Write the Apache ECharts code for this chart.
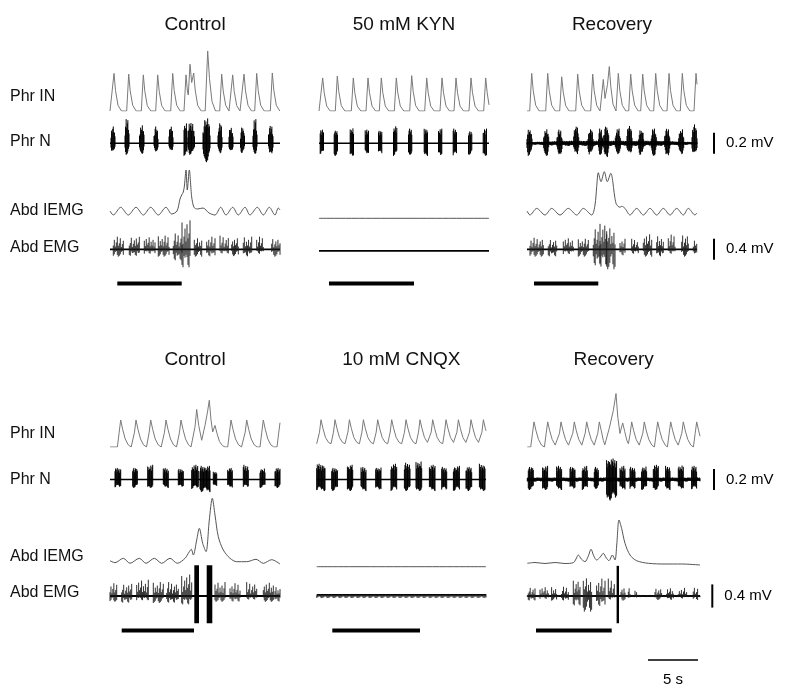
<!DOCTYPE html>
<html><head><meta charset="utf-8">
<script src="https://cdn.jsdelivr.net/npm/echarts/dist/echarts.min.js"></script>
<style>html,body{margin:0;padding:0;background:#fff}#c{width:792px;height:692px}</style>
</head><body><div id="c"></div>
<script>
// ---------------- DATA ----------------
var titlesTop = ['Control', '50 mM KYN', 'Recovery'];
var titlesBottom = ['Control', '10 mM CNQX', 'Recovery'];
var traceLabels = ['Phr IN', 'Phr N', 'Abd IEMG', 'Abd EMG'];
var durTop = [17, 17, 17];          // s shown per panel
var durBottom = [17, 16.93, 17.27]; // s shown per panel

// integrated phrenic (a.u., 1 = normal burst) [t (s), value]
var phrIN_A1 = [[0,0],[0.2,0],[0.4,0.99],[0.55,0.54],[0.8,0.15],[1.15,0],[1.67,0],[1.87,0.97],[2.02,0.53],[2.27,0.15],[2.62,0],[3.13,0],[3.33,0.95],[3.48,0.52],[3.73,0.14],[4.08,0],[4.57,0],[4.77,0.95],[4.92,0.52],[5.17,0.14],[5.52,0],[6.07,0],[6.27,0.99],[6.42,0.54],[6.67,0.15],[7.02,0],[7.4,0],[7.6,0.95],[7.75,0.5],[7.83,0.42],[8.0,1.23],[8.17,0.75],[8.37,1.0],[8.52,0.55],[8.77,0.15],[9.12,0],[9.52,0],[9.77,1.58],[9.95,0.85],[10.2,0.25],[10.55,0],[10.97,0],[11.17,0.97],[11.32,0.53],[11.57,0.15],[11.9,0],[12.07,0],[12.27,0.95],[12.42,0.52],[12.67,0.14],[13.0,0],[13.2,0],[13.4,0.97],[13.55,0.53],[13.8,0.15],[14.15,0],[14.47,0],[14.67,0.99],[14.82,0.54],[15.07,0.15],[15.42,0],[16.03,0],[16.23,1.0],[16.38,0.55],[16.63,0.15],[16.98,0]];
var phrIN_A2 = [[0,0],[0.17,0],[0.37,0.87],[0.52,0.48],[0.77,0.13],[1.12,0],[1.63,0],[1.83,0.92],[1.98,0.51],[2.23,0.14],[2.58,0],[3.23,0],[3.43,0.87],[3.58,0.48],[3.83,0.13],[4.18,0],[4.7,0],[4.9,0.87],[5.05,0.48],[5.3,0.13],[5.65,0],[6.03,0],[6.23,0.87],[6.38,0.48],[6.63,0.13],[6.98,0],[7.53,0],[7.73,0.87],[7.88,0.48],[8.13,0.13],[8.48,0],[9.07,0],[9.27,0.93],[9.42,0.51],[9.67,0.14],[10.02,0],[10.57,0],[10.77,0.87],[10.92,0.48],[11.17,0.13],[11.52,0],[12.1,0],[12.3,0.87],[12.45,0.48],[12.7,0.13],[13.05,0],[13.5,0],[13.7,0.87],[13.85,0.48],[14.1,0.13],[14.45,0],[15.0,0],[15.2,0.87],[15.35,0.48],[15.6,0.13],[15.95,0],[16.47,0],[16.67,0.87],[16.82,0.48],[17.0,0.16]];
var phrIN_A3 = [[0,0],[0.27,0],[0.47,0.99],[0.62,0.54],[0.87,0.15],[1.22,0],[1.87,0],[2.07,0.99],[2.22,0.54],[2.47,0.15],[2.82,0],[3.27,0],[3.47,0.9],[3.62,0.5],[3.87,0.14],[4.22,0],[4.87,0],[5.07,0.97],[5.22,0.53],[5.47,0.15],[5.82,0],[6.37,0],[6.57,0.97],[6.72,0.53],[6.97,0.15],[7.3,0],[7.43,0],[7.63,0.83],[7.8,0.33],[8.05,0.7],[8.23,1.17],[8.38,0.64],[8.6,0.18],[8.9,0],[8.93,0],[9.13,0.99],[9.28,0.54],[9.53,0.15],[9.88,0],[10.17,0],[10.37,0.97],[10.52,0.53],[10.77,0.15],[11.12,0],[11.37,0],[11.57,0.97],[11.72,0.53],[11.97,0.15],[12.32,0],[12.67,0],[12.87,0.99],[13.02,0.54],[13.27,0.15],[13.62,0],[14.0,0],[14.2,0.99],[14.35,0.54],[14.6,0.15],[14.95,0],[15.33,0],[15.53,0.99],[15.68,0.54],[15.93,0.15],[16.28,0],[16.7,0],[16.9,0.99],[17.0,0.7]];
var phrIN_B1 = [[0,0],[0.74,0],[0.92,0.55],[1.07,1.0],[1.27,0.65],[1.52,0.3],[1.82,0.08],[2.12,0],[2.27,0],[2.45,0.55],[2.6,1.0],[2.8,0.65],[3.05,0.3],[3.35,0.08],[3.65,0],[3.74,0],[3.92,0.55],[4.07,1.0],[4.27,0.65],[4.52,0.3],[4.82,0.08],[5.12,0],[5.27,0],[5.45,0.55],[5.6,1.0],[5.8,0.65],[6.05,0.3],[6.35,0.08],[6.65,0],[6.77,0],[6.95,0.55],[7.1,1.0],[7.3,0.65],[7.55,0.3],[7.85,0.08],[8.1,0],[8.3,0],[8.5,0.75],[8.67,1.39],[8.87,0.8],[9.17,0.25],[9.5,0.8],[9.75,1.3],[9.93,1.73],[10.1,1.0],[10.27,0.56],[10.5,0.8],[10.7,0.5],[10.95,0.2],[11.25,0.05],[11.5,0],[11.77,0],[11.95,0.55],[12.1,1.0],[12.3,0.65],[12.55,0.3],[12.85,0.08],[13.15,0],[13.34,0],[13.52,0.55],[13.67,1.0],[13.87,0.65],[14.12,0.3],[14.42,0.08],[14.72,0],[15.0,0],[15.18,0.55],[15.33,1.0],[15.53,0.65],[15.78,0.3],[16.08,0.08],[16.38,0],[16.7,0],[16.88,0.55],[17.0,0.9]];
var phrIN_B2 = [[0,0.12],[0.1,0.12],[0.28,0.55],[0.43,1.01],[0.63,0.68],[0.88,0.35],[1.18,0.17],[1.43,0.12],[1.5,0.12],[1.68,0.55],[1.83,1.01],[2.03,0.68],[2.28,0.35],[2.58,0.17],[2.83,0.12],[2.94,0.12],[3.12,0.55],[3.27,1.01],[3.47,0.68],[3.72,0.35],[4.02,0.17],[4.27,0.12],[4.34,0.12],[4.52,0.55],[4.67,1.01],[4.87,0.68],[5.12,0.35],[5.42,0.17],[5.67,0.12],[5.77,0.12],[5.95,0.55],[6.1,1.01],[6.3,0.68],[6.55,0.35],[6.85,0.17],[7.1,0.12],[7.17,0.12],[7.35,0.55],[7.5,1.01],[7.7,0.68],[7.95,0.35],[8.25,0.17],[8.5,0.12],[8.6,0.12],[8.78,0.55],[8.93,1.01],[9.13,0.68],[9.38,0.35],[9.68,0.17],[9.93,0.12],[10.0,0.12],[10.18,0.55],[10.33,1.01],[10.53,0.68],[10.78,0.35],[11.08,0.17],[11.27,0.12],[11.45,0.55],[11.6,1.01],[11.8,0.68],[12.05,0.35],[12.35,0.17],[12.6,0.12],[12.78,0.55],[12.93,1.01],[13.13,0.68],[13.38,0.35],[13.68,0.17],[13.84,0.12],[14.02,0.55],[14.17,1.01],[14.37,0.68],[14.62,0.35],[14.92,0.17],[15.1,0.12],[15.28,0.55],[15.43,1.01],[15.63,0.68],[15.88,0.35],[16.18,0.17],[16.34,0.12],[16.52,0.55],[16.67,1.01],[16.87,0.68],[16.93,0.6]];
var phrIN_B3 = [[0,0],[0.34,0],[0.52,0.51],[0.67,0.93],[0.87,0.6],[1.12,0.28],[1.42,0.07],[1.62,0],[1.71,0],[1.89,0.51],[2.04,0.93],[2.24,0.6],[2.49,0.28],[2.79,0.07],[2.99,0],[3.04,0],[3.22,0.51],[3.37,0.93],[3.57,0.6],[3.82,0.28],[4.12,0.07],[4.32,0],[4.37,0],[4.55,0.51],[4.7,0.93],[4.9,0.6],[5.15,0.28],[5.45,0.07],[5.61,0],[5.79,0.51],[5.94,0.93],[6.14,0.6],[6.39,0.28],[6.69,0.07],[6.87,0],[7.05,0.51],[7.2,0.93],[7.4,0.6],[7.6,0.25],[7.75,0.08],[8.2,0.7],[8.6,1.35],[8.87,1.98],[9.05,1.1],[9.27,0.5],[9.4,0.7],[9.54,0.89],[9.74,0.58],[9.95,0.25],[10.11,0.12],[10.29,0.5],[10.44,0.93],[10.64,0.6],[10.89,0.28],[11.19,0.07],[11.37,0],[11.55,0.51],[11.7,0.93],[11.9,0.6],[12.15,0.28],[12.45,0.07],[12.71,0],[12.89,0.51],[13.04,0.93],[13.24,0.6],[13.49,0.28],[13.79,0.07],[14.01,0],[14.19,0.51],[14.34,0.93],[14.54,0.6],[14.79,0.28],[15.09,0.07],[15.27,0],[15.45,0.51],[15.6,0.93],[15.8,0.6],[16.05,0.28],[16.35,0.07],[16.61,0],[16.79,0.51],[16.94,0.93],[17.14,0.6],[17.27,0.4]];

// integrated abdominal EMG (a.u.) [t (s), value]
var iemg_A1 = [[0,0.0],[0.33,-0.4],[1.07,0.37],[1.83,-0.4],[2.6,0.37],[3.33,-0.4],[4.07,0.37],[4.83,-0.4],[5.6,0.37],[6.17,-0.3],[6.7,0.0],[7.0,1.2],[7.17,1.6],[7.33,1.9],[7.45,2.6],[7.6,4.1],[7.73,2.1],[7.93,4.1],[8.17,1.4],[8.4,0.37],[8.73,0.2],[9.3,0.3],[9.9,-0.2],[10.5,-0.4],[11.07,0.37],[11.6,-0.4],[12.27,0.37],[12.83,-0.4],[13.5,0.37],[14.0,-0.4],[14.73,0.37],[15.33,-0.4],[15.93,0.37],[16.5,-0.4],[16.83,0.3],[17,0.1]];
var iemg_A2 = [[0,-0.73],[17,-0.73]];
var iemg_A3 = [[0,0],[0.3,-0.4],[0.97,0.26],[1.8,-0.4],[2.47,0.26],[3.3,-0.4],[4.13,0.26],[4.97,-0.4],[5.63,0.26],[6.47,-0.4],[6.8,0.6],[6.97,2.43],[7.13,3.83],[7.4,2.93],[7.73,3.93],[8.03,2.93],[8.37,3.77],[8.9,0.77],[9.3,0.37],[9.47,0.47],[9.8,0.26],[10.3,-0.4],[10.97,0.26],[11.63,-0.4],[12.3,0.26],[12.97,-0.4],[13.63,0.26],[14.3,-0.4],[14.97,0.26],[15.63,-0.4],[16.13,0.26],[16.8,-0.4],[16.97,-0.2]];
var iemg_B1 = [[0,0.13],[0.5,-0.07],[1.33,0.37],[2.0,-0.13],[2.93,0.37],[3.6,-0.13],[4.43,0.37],[5.17,-0.13],[6.0,0.37],[6.73,-0.13],[7.5,0.37],[7.93,1.03],[8.13,1.27],[8.33,0.7],[8.67,2.2],[8.93,3.37],[9.27,1.87],[9.6,1.03],[9.93,4.2],[10.23,6.37],[10.5,4.7],[10.83,2.53],[11.33,1.2],[12.0,0.37],[12.67,0.03],[13.67,0.03],[14.6,0.27],[15.33,-0.13],[16.17,0.23],[17,-0.2]];
var iemg_B2 = [[0,-0.47],[16.93,-0.47]];
var iemg_B3 = [[0,-0.13],[0.77,-0.05],[1.77,-0.15],[2.77,-0.05],[3.77,-0.15],[4.6,-0.07],[4.87,0.3],[5.1,0.7],[5.4,0.3],[5.77,0.03],[6.1,0.6],[6.37,1.27],[6.65,0.6],[6.93,0.2],[7.3,0.5],[7.6,0.87],[7.9,0.4],[8.17,0.13],[8.5,0.7],[8.77,0.2],[8.95,1.8],[9.17,4.2],[9.43,3.37],[9.77,1.87],[10.27,0.7],[10.93,0.13],[12.1,-0.13],[13.77,-0.2],[15.43,-0.2],[17.27,-0.3]];

// raw phrenic nerve bursts [t start, t end, max up (mV), max down (mV)]
var phrN_A1 = [[0.1,0.5,0.16,0.10],[1.5,1.9,0.25,0.11],[2.95,3.4,0.18,0.10],[4.4,4.8,0.16,0.09],[5.9,6.3,0.18,0.09],[7.4,7.7,0.2,0.12],[7.8,8.45,0.21,0.11],[9.3,10.0,0.25,0.18],[10.8,11.2,0.2,0.11],[11.9,12.3,0.16,0.1],[13.05,13.45,0.17,0.1],[14.3,14.7,0.23,0.1],[15.85,16.3,0.18,0.1]];
var phrN_A2 = [[0.12,0.45,0.13,0.11],[1.52,1.85,0.13,0.12],[3.12,3.45,0.15,0.12],[4.62,4.95,0.13,0.11],[5.95,6.28,0.13,0.11],[7.45,7.78,0.17,0.12],[8.95,9.28,0.14,0.11],[10.52,10.85,0.15,0.12],[11.95,12.28,0.14,0.13],[13.42,13.75,0.14,0.13],[14.95,15.28,0.13,0.11],[16.42,16.75,0.14,0.12]];
var phrN_A3 = [[0,17,0.025,0.025],[0.0,0.5,0.14,0.12],[1.67,2.17,0.14,0.12],[3.0,3.5,0.13,0.12],[4.67,5.17,0.18,0.12],[6.1,6.6,0.14,0.12],[7.15,7.55,0.14,0.11],[7.67,8.17,0.18,0.13],[8.83,9.33,0.14,0.12],[10.0,10.5,0.18,0.12],[11.17,11.67,0.14,0.12],[12.43,12.93,0.14,0.12],[13.77,14.27,0.15,0.12],[15.17,15.67,0.14,0.12],[16.5,17.0,0.18,0.12]];
var phrN_B1 = [[0.5,1.07,0.11,0.08],[2.27,2.73,0.12,0.08],[3.77,4.27,0.14,0.08],[5.33,5.83,0.11,0.08],[6.83,7.33,0.11,0.08],[8.17,8.83,0.14,0.09],[9.0,10.0,0.13,0.12],[10.33,10.67,0.08,0.06],[11.77,12.23,0.11,0.08],[13.33,13.83,0.14,0.08],[15.0,15.5,0.11,0.08],[16.5,17.0,0.11,0.08]];
var phrN_B2 = [[0,0.83,0.15,0.11],[1.5,2.07,0.12,0.11],[3.07,3.6,0.14,0.11],[4.43,4.93,0.12,0.11],[5.9,6.43,0.12,0.11],[7.43,8.0,0.15,0.11],[8.77,9.33,0.16,0.11],[9.93,10.5,0.18,0.11],[11.27,11.83,0.14,0.11],[12.5,13.0,0.12,0.11],[13.67,14.27,0.13,0.11],[14.93,15.5,0.12,0.11],[16.27,16.83,0.15,0.11]];
var phrN_B3 = [[0,17.27,0.02,0.02],[0.1,0.6,0.13,0.1],[1.53,2.03,0.13,0.1],[2.93,3.43,0.13,0.1],[4.27,4.77,0.13,0.1],[5.5,6.0,0.13,0.1],[6.7,7.1,0.12,0.09],[7.93,8.93,0.2,0.2],[9.27,9.77,0.13,0.1],[10.27,10.77,0.12,0.1],[11.43,11.93,0.13,0.1],[12.6,13.1,0.14,0.1],[13.83,14.27,0.13,0.1],[15.1,15.6,0.14,0.1],[16.43,16.93,0.13,0.1]];

// raw abdominal EMG bursts [t start, t end, max up (mV), max down (mV)]
var emg_A1 = [[0.33,1.33,0.24,0.14],[1.93,2.93,0.25,0.13],[3.43,4.5,0.24,0.14],[4.83,5.9,0.26,0.14],[6.33,7.2,0.3,0.22],[7.2,8.0,0.58,0.57],[8.43,9.17,0.22,0.14],[9.67,10.5,0.24,0.14],[11.0,11.83,0.26,0.13],[12.17,12.83,0.22,0.13],[13.33,14.17,0.24,0.14],[14.67,15.33,0.24,0.14],[16.17,17.0,0.22,0.14]];
var emg_A2 = [];
var emg_A3 = [[0.3,1.63,0.22,0.14],[2.13,2.97,0.2,0.14],[3.63,4.63,0.22,0.15],[5.13,6.13,0.2,0.14],[6.63,7.3,0.38,0.32],[7.3,7.97,0.55,0.55],[7.97,8.8,0.42,0.38],[9.3,9.8,0.2,0.12],[10.47,11.13,0.2,0.14],[11.63,12.47,0.3,0.14],[12.97,13.63,0.26,0.14],[14.13,14.8,0.28,0.14],[15.47,16.13,0.3,0.14],[16.63,16.97,0.2,0.14]];
var emg_B1 = [[0,0.67,0.22,0.1],[1.17,2.17,0.22,0.12],[2.67,3.83,0.28,0.12],[4.33,5.33,0.24,0.12],[5.67,6.83,0.24,0.12],[7.17,8.17,0.39,0.24],[10.5,11.5,0.24,0.1],[12.0,13.0,0.22,0.1],[13.67,14.67,0.24,0.1],[15.33,16.33,0.24,0.1],[16.5,17.0,0.16,0.1]];
var emg_B2 = [[0,16.93,0.035,0.035]];
var emg_B3 = [[0,17.27,0.02,0.02],[0.1,0.77,0.16,0.08],[1.27,2.1,0.16,0.08],[2.43,2.93,0.16,0.08],[3.43,4.1,0.16,0.08],[4.6,5.27,0.3,0.27],[5.6,6.43,0.32,0.27],[6.93,7.77,0.3,0.18],[8.1,8.7,0.3,0.1],[9.37,9.77,0.16,0.08],[10.1,10.27,0.14,0.05],[10.77,10.93,0.12,0.05],[12.77,13.43,0.14,0.07],[13.93,14.6,0.14,0.07],[15.1,15.93,0.14,0.07],[16.6,17.03,0.14,0.07]];
// dense, saturated EMG discharges [t start, t end, up (mV), down (mV)]
var emgBlocks_B1 = [[8.43,8.9,0.53,0.47],[9.67,10.23,0.53,0.47]];
var emgBlocks_B3 = [[8.93,9.17,0.52,0.47]];

// raw-trace baselines (mV)
var phrNBase_A = [0, 0, 0];
var emgBase_A = [0, -0.03, 0];
var phrNBase_B = [0, 0, 0];
var emgBase_B = [0, 0.02, 0];

// horizontal black bars under each panel [t start, t end] (s)
var stimBars_A = [[0.73,7.17],[1.0,9.5],[0.7,7.13]];
var stimBars_B = [[1.17,8.4],[1.56,10.33],[0.87,8.44]];

// calibration bars
var calPhrN = 0.2;  // mV
var calEmg = 0.4;   // mV
var calTime = 5;    // s

// ---------------- LAYOUT ----------------
var PX_PER_S = 10;
var panelLeft = [[110, 319, 527], [110, 316.7, 527.3]];
// [zero-line y px, px per unit, min, max]
var rowLayout = [
  {phrIN: [111, 38, 0, 1.7], phrN: [143.3, 105, -0.26, 0.26], iemg: [211, 10, -1, 4.5], emg: [249.3, 52.5, -0.62, 0.62], stim: 283.5, titleY: 25, labelY: [97, 142, 211, 248], taper: true},
  {phrIN: [447, 27, 0, 2.1], phrN: [479.5, 105, -0.26, 0.26], iemg: [562, 10, -1, 6.8], emg: [596, 58, -0.6, 0.6], stim: 630.5, titleY: 360, labelY: [434, 480, 557, 593], taper: false}
];
var TEXTURE_N = [0.72,0.95,0.6,0.86,1.0,0.66,0.8,0.92,0.58,0.76,0.88,0.64,0.83,0.7];
var TEXTURE_E = [0.3,0.75,0.22,0.55,1.0,0.28,0.48,0.88,0.18,0.42,0.68,0.26,0.82,0.36,0.52,0.95,0.24,0.6];
var FONT = '"Liberation Sans", Arial, sans-serif';

var rows = [
  {titles: titlesTop, dur: durTop, phrIN: [phrIN_A1, phrIN_A2, phrIN_A3], phrN: [phrN_A1, phrN_A2, phrN_A3], iemg: [iemg_A1, iemg_A2, iemg_A3], emg: [emg_A1, emg_A2, emg_A3], blocks: [[], [], []], phrNBase: phrNBase_A, emgBase: emgBase_A, stim: stimBars_A},
  {titles: titlesBottom, dur: durBottom, phrIN: [phrIN_B1, phrIN_B2, phrIN_B3], phrN: [phrN_B1, phrN_B2, phrN_B3], iemg: [iemg_B1, iemg_B2, iemg_B3], emg: [emg_B1, emg_B2, emg_B3], blocks: [emgBlocks_B1, [], emgBlocks_B3], phrNBase: phrNBase_B, emgBase: emgBase_B, stim: stimBars_B}
];

var grids = [], xAxes = [], yAxes = [], series = [], graphics = [];
function addGrid(left, dur, spec) {
  var i = grids.length;
  grids.push({left: left, top: spec[0] - spec[3] * spec[1], width: dur * PX_PER_S, height: (spec[3] - spec[2]) * spec[1], containLabel: false});
  xAxes.push({type: 'value', gridIndex: i, min: 0, max: dur, show: false});
  yAxes.push({type: 'value', gridIndex: i, min: spec[2], max: spec[3], show: false});
  return i;
}
function lineSeries(g, data, color, width, smooth) {
  series.push({type: 'line', xAxisIndex: g, yAxisIndex: g, data: data, symbol: 'none', showSymbol: false, smooth: smooth || false,
    lineStyle: {color: color, width: width}, silent: true, animation: false, z: 2});
}
// each burst is drawn as a comb of vertical strokes; the texture only gives the look of noise
function burstRenderer(spacing, lw, color, tex, taper) {
  return function (params, api) {
    var a = api.coord([api.value(0), 0]);
    var b = api.coord([api.value(1), 0]);
    var yu = api.coord([api.value(0), api.value(2)])[1];
    var yd = api.coord([api.value(0), -api.value(3)])[1];
    var y0 = a[1];
    var n = Math.max(1, Math.round((b[0] - a[0]) / spacing));
    var off = params.dataIndex * 5;
    var kids = [];
    for (var i = 0; i <= n; i++) {
      var x = a[0] + (b[0] - a[0]) * i / n;
      var edge = Math.min(i, n - i) / n;
      var env = taper && n > 6 ? Math.min(1, 0.45 + 2.4 * edge) : 1;
      var fu = tex[(i + off) % tex.length] * env;
      var fd = tex[(i * 3 + off + 7) % tex.length] * env;
      kids.push({type: 'line', shape: {x1: x, y1: y0 - (y0 - yu) * fu, x2: x, y2: y0 + (yd - y0) * fd},
        style: {stroke: color, lineWidth: lw}});
    }
    return {type: 'group', children: kids};
  };
}
function burstSeries(g, data, spacing, lw, color, tex, taper) {
  series.push({type: 'custom', xAxisIndex: g, yAxisIndex: g, data: data, renderItem: burstRenderer(spacing, lw, color, tex, taper),
    encode: {x: [0, 1], y: [2, 3]}, silent: true, animation: false, clip: false, z: 3});
}
function rectSeries(g, data) {
  series.push({type: 'custom', xAxisIndex: g, yAxisIndex: g, data: data, silent: true, animation: false, clip: false, z: 3,
    encode: {x: [0, 1], y: [2, 3]},
    renderItem: function (params, api) {
      var p1 = api.coord([api.value(0), api.value(2)]);
      var p2 = api.coord([api.value(1), -api.value(3)]);
      return {type: 'rect', shape: {x: p1[0], y: p1[1], width: p2[0] - p1[0], height: p2[1] - p1[1]}, style: {fill: '#000'}};
    }});
}
function calSeries(g, t, half, label) {
  series.push({type: 'custom', xAxisIndex: g, yAxisIndex: g, data: [[t, -half, half]], silent: true, animation: false, clip: false, z: 3,
    encode: {x: 0, y: [1, 2]},
    renderItem: function (params, api) {
      var p1 = api.coord([api.value(0), api.value(1)]);
      var p2 = api.coord([api.value(0), api.value(2)]);
      return {type: 'group', children: [
        {type: 'line', shape: {x1: p1[0], y1: p1[1], x2: p2[0], y2: p2[1]}, style: {stroke: '#000', lineWidth: 2}},
        {type: 'text', x: p1[0] + 12, y: (p1[1] + p2[1]) / 2, style: {text: label, fill: '#000', font: '15px ' + FONT, textAlign: 'left', textVerticalAlign: 'middle', align: 'left', verticalAlign: 'middle'}}
      ]};
    }});
}

rows.forEach(function (row, r) {
  var L = rowLayout[r];
  for (var p = 0; p < 3; p++) {
    var left = panelLeft[r][p], dur = row.dur[p];
    var g;
    g = addGrid(left, dur, L.phrIN);
    lineSeries(g, row.phrIN[p], '#7a7a7a', 1);
    g = addGrid(left, dur, L.phrN);
    lineSeries(g, [[0, row.phrNBase[p]], [dur, row.phrNBase[p]]], '#000', 1.6);
    burstSeries(g, row.phrN[p], 0.6, 1, '#000', TEXTURE_N, L.taper);
    g = addGrid(left, dur, L.iemg);
    lineSeries(g, row.iemg[p], '#555', 1, 0.3);
    g = addGrid(left, dur, L.emg);
    lineSeries(g, [[0, row.emgBase[p]], [dur, row.emgBase[p]]], '#000', 1.8);
    burstSeries(g, row.emg[p], 1.0, 0.9, '#1a1a1a', TEXTURE_E, false);
    if (row.blocks[p].length) rectSeries(g, row.blocks[p]);
    // bar under panel
    g = addGrid(left, dur, [L.stim, 2, -1, 1]);
    series.push({type: 'custom', xAxisIndex: g, yAxisIndex: g, data: [row.stim[p]], silent: true, animation: false, clip: false,
      encode: {x: [0, 1]},
      renderItem: function (params, api) {
        var p1 = api.coord([api.value(0), 1]);
        var p2 = api.coord([api.value(1), -1]);
        return {type: 'rect', shape: {x: p1[0], y: p1[1], width: p2[0] - p1[0], height: p2[1] - p1[1]}, style: {fill: '#000'}};
      }});
    graphics.push({type: 'text', x: left + dur * PX_PER_S / 2, y: L.titleY, silent: true,
      style: {text: row.titles[p], fill: '#111', font: '19px ' + FONT, textAlign: 'center', textVerticalAlign: 'middle'}});
  }
  // calibration bars, placed to the right of the third panel
  var cl = panelLeft[r][2];
  var gc = addGrid(cl, 25, L.phrN);
  calSeries(gc, r === 0 ? 18.7 : 18.67, calPhrN / 2, calPhrN + ' mV');
  gc = addGrid(cl, 25, L.emg);
  calSeries(gc, r === 0 ? 18.7 : 18.5, calEmg / 2, calEmg + ' mV');
  traceLabels.forEach(function (lab, k) {
    graphics.push({type: 'text', x: 10, y: L.labelY[k], silent: true,
      style: {text: lab, fill: '#111', font: '16px ' + FONT, textAlign: 'left', textVerticalAlign: 'middle'}});
  });
});
// time calibration
var gt = addGrid(panelLeft[1][2], 25, [660, 1, -1, 1]);
series.push({type: 'custom', xAxisIndex: gt, yAxisIndex: gt, data: [[12.07, 12.07 + calTime]], silent: true, animation: false, clip: false,
  encode: {x: [0, 1]},
  renderItem: function (params, api) {
    var p1 = api.coord([api.value(0), 0]);
    var p2 = api.coord([api.value(1), 0]);
    return {type: 'group', children: [
      {type: 'line', shape: {x1: p1[0], y1: p1[1], x2: p2[0], y2: p2[1]}, style: {stroke: '#000', lineWidth: 1.5}},
      {type: 'text', x: (p1[0] + p2[0]) / 2, y: p1[1] + 20, style: {text: calTime + ' s', fill: '#000', font: '15px ' + FONT, textAlign: 'center', textVerticalAlign: 'middle', align: 'center', verticalAlign: 'middle'}}
    ]};
  }});

var chart = echarts.init(document.getElementById('c'), null, {renderer: 'canvas', width: 792, height: 692});
chart.setOption({
  backgroundColor: '#fff',
  animation: false,
  grid: grids, xAxis: xAxes, yAxis: yAxes, series: series, graphic: graphics
});
</script></body></html>
